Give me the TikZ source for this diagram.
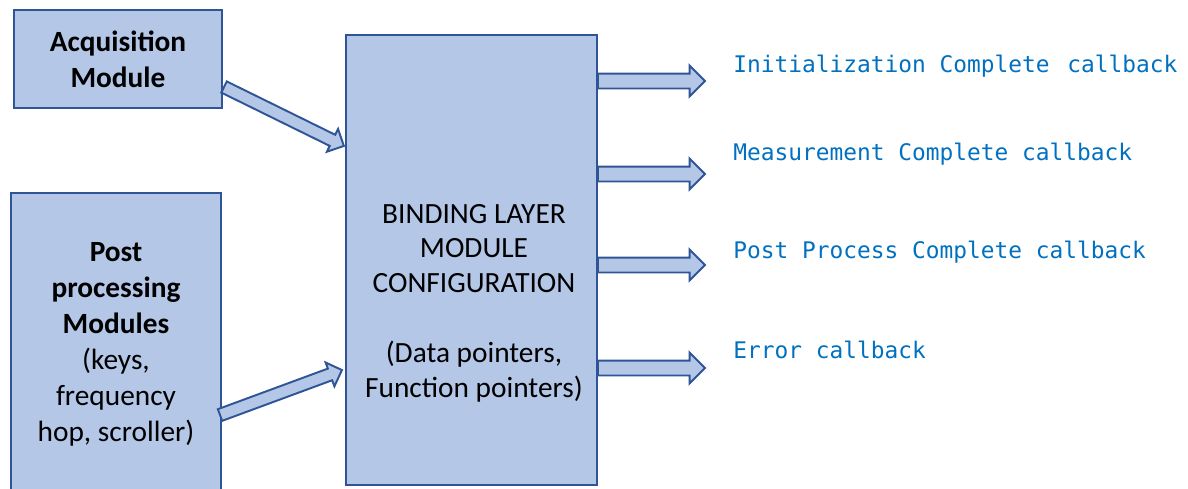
\documentclass[tikz,border=0pt]{standalone}
\usepackage{fontspec}
\setmainfont{Carlito}
\newfontfamily\cbfont{DejaVu Sans Mono}
\usetikzlibrary{shapes.arrows, calc}
\definecolor{boxblue}{RGB}{180,199,231}
\definecolor{edgeblue}{RGB}{47,85,151}
\definecolor{cbblue}{RGB}{0,112,192}

% block arrow laid from #2 to #3
\newcommand{\blockarrow}[3][flowarrow]{%
  \path let \p1=($(#3)-(#2)$), \n1={atan2(\y1,\x1)}, \n2={veclen(\x1,\y1)} in
    node[#1, rotate=\n1, minimum height=\n2, anchor=tail] at (#2) {};}

\begin{document}
\begin{tikzpicture}[x=0.02cm, y=-0.02cm,
    modbox/.style={rectangle, draw=edgeblue, fill=boxblue, line width=1.2pt, align=center, font=\fontsize{16.7}{20.5}\selectfont},
    flowarrow/.style={single arrow, draw=edgeblue, fill=boxblue, line width=1.1pt, inner sep=0.13cm, single arrow head extend=0.16cm, outer sep=0pt},
    slantarrow/.style={flowarrow, inner sep=0.105cm, single arrow head extend=0.13cm},
    cbtext/.style={anchor=base west, inner sep=0pt, text=cbblue, font=\cbfont\fontsize{13}{15}\selectfont}
]
    \path[use as bounding box] (0,0) rectangle (1188,488);
    \clip (0,0) rectangle (1188,488);

    % Modules
    \node[modbox, minimum width=4.16cm, minimum height=1.96cm] (acq) at (118,59) {\bfseries Acquisition\\\bfseries Module};
    \node[modbox, minimum width=4.2cm, minimum height=6.06cm] (post) at (116,344.5) {\bfseries Post\\\bfseries processing\\\bfseries Modules\\(keys,\\frequency\\hop, scroller)};

    % Binding layer
    \node[modbox, minimum width=5.02cm, minimum height=9cm] (bind) at (471.5,260) {};
    \node[align=center, font=\fontsize{16.7}{19.8}\selectfont] (bindtxt) at (474,303) {BINDING LAYER\\MODULE\\CONFIGURATION\\[19.8pt](Data pointers,\\Function pointers)};

    % Callbacks
    \node[cbtext] (cbinit) at (733,72) {Initialization Complete\kern0.08cm{} callback};
    \node[cbtext] (cbmeas) at (733,160) {Measurement Complete callback};
    \node[cbtext] (cbpost) at (733,258) {Post Process Complete callback};
    \node[cbtext] (cberr) at (733,358) {Error callback};

    % Arrows
    \coordinate (tipinit) at (705,81);
    \coordinate (tipmeas) at (705,174);
    \coordinate (tippost) at (705,265);
    \coordinate (tiperr) at (705,368);
    \coordinate (acqout) at ($(acq.east)+(1,28)$);
    \coordinate (acqin) at ($(bind.west)+(-1,-114)$);
    \coordinate (postout) at ($(post.east)+(-2,70.5)$);
    \coordinate (postin) at ($(bind.west)+(-3,110)$);

    \blockarrow[slantarrow]{acqout}{acqin}
    \blockarrow[slantarrow]{postout}{postin}
    \blockarrow{bind.east |- tipinit}{tipinit}
    \blockarrow{bind.east |- tipmeas}{tipmeas}
    \blockarrow{bind.east |- tippost}{tippost}
    \blockarrow{bind.east |- tiperr}{tiperr}

\end{tikzpicture}
\end{document}
